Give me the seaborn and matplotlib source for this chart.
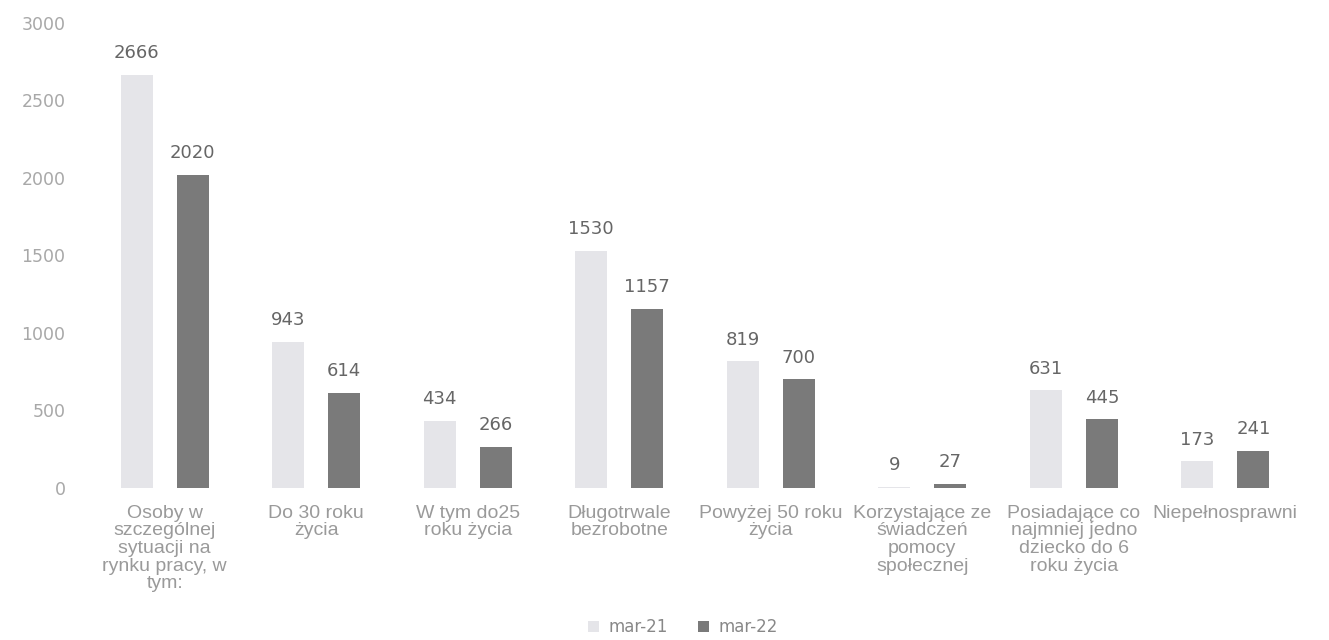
import pandas as pd
import numpy as np
import matplotlib.pyplot as plt
import seaborn as sns

categories = [
    "Osoby w\nszczególnej\nsytuacji na\nrynku pracy, w\ntym:",
    "Do 30 roku\nżycia",
    "W tym do25\nroku życia",
    "Długotrwale\nbezrobotne",
    "Powyżej 50 roku\nżycia",
    "Korzystające ze\nświadczeń\npomocy\nspołecznej",
    "Posiadające co\nnajmniej jedno\ndziecko do 6\nroku życia",
    "Niepełnosprawni",
]
series = ["mar-21", "mar-22"]
mar21 = [2666, 943, 434, 1530, 819, 9, 631, 173]
mar22 = [2020, 614, 266, 1157, 700, 27, 445, 241]
yticks = [0, 500, 1000, 1500, 2000, 2500, 3000]

df = pd.DataFrame({
    "kat": categories * 2,
    "okres": [series[0]] * len(categories) + [series[1]] * len(categories),
    "val": mar21 + mar22,
})

sns.set_style("white")
plt.rcParams['font.family'] = ['DejaVu Sans']

fig = plt.figure(figsize=(13.29, 6.4), dpi=100)
ax = fig.add_axes([0.067, 0.2375, 0.912, 0.7266])

palette = {"mar-21": "#e4e4ea", "mar-22": "#7a7a7a"}
sns.barplot(data=df, x="kat", y="val", hue="okres", hue_order=series,
            order=categories, palette=palette, width=0.74, gap=0.43,
            edgecolor="none", ax=ax, legend=True)

for cont in ax.containers:
    ax.bar_label(cont, labels=[f"{int(v)}" for v in cont.datavalues],
                 padding=9, fontsize=13, color="#666666")

ax.set_ylim(0, 3000)
ax.set_yticks(yticks)
ax.set_yticklabels([str(t) for t in yticks], fontsize=12.5, color="#a8a8a8")
ax.tick_params(axis="y", length=0, pad=17)
ax.tick_params(axis="x", length=0, pad=12)
ax.set_xticks(range(len(categories)))
ax.set_xticklabels(categories, fontsize=14, color="#9a9a9a", linespacing=1.05,
                   family=["Liberation Sans", "DejaVu Sans"])
ax.set_xlabel("")
ax.set_ylabel("")
for s in ax.spines.values():
    s.set_visible(False)

leg = ax.legend(loc="center", bbox_to_anchor=(0.49, -0.299), ncol=2,
                frameon=False, fontsize=12, handlelength=0.65, handleheight=0.65,
                columnspacing=1.8, handletextpad=0.6)
for t in leg.get_texts():
    t.set_color("#888888")

fig.savefig("out.png", dpi=100)
